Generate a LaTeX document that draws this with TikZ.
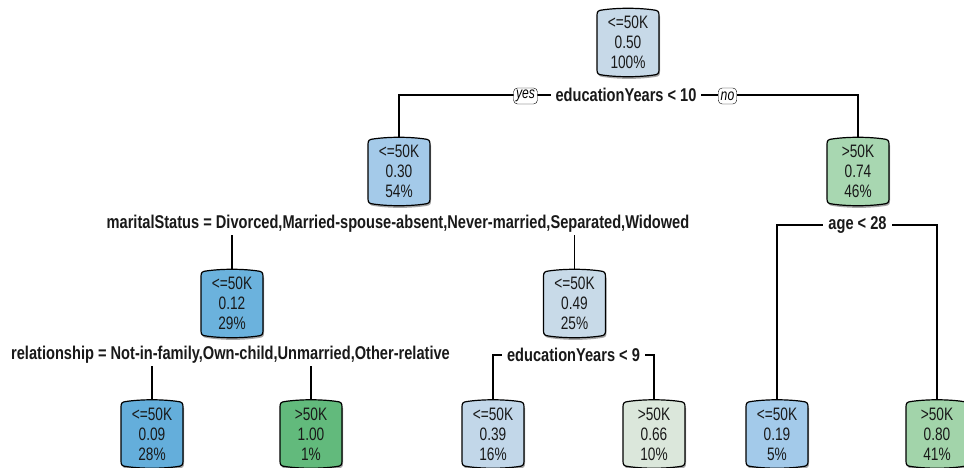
\documentclass[tikz,border=0pt]{standalone}
\usepackage{fontspec}
\setmainfont{Liberation Sans}
\newfontfamily\nodefont{Liberation Sans}[FakeStretch=0.76]
\newfontfamily\labelfont{Liberation Sans}[FakeStretch=0.79]
\pgfdeclarelayer{bg}
\pgfdeclarelayer{mid}
\pgfsetlayers{bg,mid,main}

% node fill colours (blue = <=50K, green = >50K)
\definecolor{c050}{RGB}{199,217,232}
\definecolor{c030}{RGB}{164,202,233}
\definecolor{c012}{RGB}{107,178,221}
\definecolor{c009}{RGB}{100,174,219}
\definecolor{c049}{RGB}{200,218,232}
\definecolor{c039}{RGB}{194,215,233}
\definecolor{c019}{RGB}{163,202,234}
\definecolor{c074}{RGB}{168,215,177}
\definecolor{c080}{RGB}{162,212,170}
\definecolor{c100}{RGB}{98,186,124}
\definecolor{c066}{RGB}{219,231,219}
\definecolor{ink}{RGB}{25,25,25}

\tikzset{
  treenode/.style={minimum width=62pt, minimum height=68pt, inner sep=0pt,
    align=center, text=ink, font=\nodefont\fontsize{18}{20}\selectfont},
  splitlabel/.style={fill=white, inner xsep=5pt, inner ysep=2pt, text=ink,
    font=\labelfont\fontsize{18.5}{20}\selectfont\bfseries},
  yesno/.style={draw, fill=white, rounded corners=4pt, inner xsep=2.5pt, inner ysep=0pt,
    minimum height=16pt, font=\nodefont\fontsize{16}{16}\selectfont\itshape},
  branch/.style={line width=1.2pt, black},
  pics/barrel/.style={code={
    \fill[gray!70] (-30,-26) -- (-30,29)
      .. controls (-30,33) and (-29,34) .. (-25,34.5)
      .. controls (-9,37) and (11,37) .. (27,34.5)
      .. controls (31,34) and (32,33) .. (32,29) -- (32,-26) -- cycle;
    \path[pic actions] (-31,-27) -- (-31,27)
      .. controls (-31,31) and (-30,32) .. (-26,32.5)
      .. controls (-10,34.8) and (10,34.8) .. (26,32.5)
      .. controls (30,32) and (31,31) .. (31,27)
      -- (31,-27)
      .. controls (31,-31) and (30,-32) .. (26,-32.5)
      .. controls (10,-34.8) and (-10,-34.8) .. (-26,-32.5)
      .. controls (-30,-32) and (-31,-31) .. (-31,-27) -- cycle;
  }}
}

\begin{document}
\begin{tikzpicture}[x=1pt, y=-1pt]
\useasboundingbox (0,0) rectangle (964,468);

% tree nodes
\node[treenode] (n1) at (628,42.5) {<=50K\\0.50\\100\%};
\node[treenode] (n2) at (399,171.5) {<=50K\\0.30\\54\%};
\node[treenode] (n3) at (858,171.5) {>50K\\0.74\\46\%};
\node[treenode] (n4) at (232,303.5) {<=50K\\0.12\\29\%};
\node[treenode] (n5) at (574.5,303.5) {<=50K\\0.49\\25\%};
\node[treenode] (l1) at (152,434) {<=50K\\0.09\\28\%};
\node[treenode] (l2) at (311,434) {>50K\\1.00\\1\%};
\node[treenode] (l3) at (493,434) {<=50K\\0.39\\16\%};
\node[treenode] (l4) at (654,434) {>50K\\0.66\\10\%};
\node[treenode] (l5) at (777,434) {<=50K\\0.19\\5\%};
\node[treenode] (l6) at (937,434) {>50K\\0.80\\41\%};

% split labels
\node[splitlabel] (s1) at (626,95) {educationYears < 10};
\node[splitlabel] (s2) at (398,224) {maritalStatus = Divorced,Married-spouse-absent,Never-married,Separated,Widowed};
\node[splitlabel] (s3) at (857.5,225) {age < 28};
\node[splitlabel] (s4) at (230.5,355) {relationship = Not-in-family,Own-child,Unmarried,Other-relative};
\node[splitlabel] (s5) at (573.5,355) {educationYears < 9};

\node[yesno] (yes) at (525.5,96) {yes};
\node[yesno] (no) at (727.5,96) {no};

% node boxes
\begin{pgfonlayer}{mid}
  \foreach \n/\c in {n1/c050,n2/c030,n3/c074,n4/c012,n5/c049,
                     l1/c009,l2/c100,l3/c039,l4/c066,l5/c019,l6/c080}
    \pic[fill=\c, draw=black, line width=1.2pt] at (\n.center) {barrel};
\end{pgfonlayer}

% branches
\begin{pgfonlayer}{bg}
  \draw[branch] (s1.center) -| (n2.north);
  \draw[branch] (s1.center) -| (n3.north);
  \draw[branch] (s2.center) -| (n4.north);
  \draw[branch] (s2.center) -| (n5.north);
  \draw[branch] (s3.center) -| (l5.north);
  \draw[branch] (s3.center) -| (l6.north);
  \draw[branch] (s4.center) -| (l1.north);
  \draw[branch] (s4.center) -| (l2.north);
  \draw[branch] (s5.center) -| (l3.north);
  \draw[branch] (s5.center) -| (l4.north);
\end{pgfonlayer}
\end{tikzpicture}
\end{document}
